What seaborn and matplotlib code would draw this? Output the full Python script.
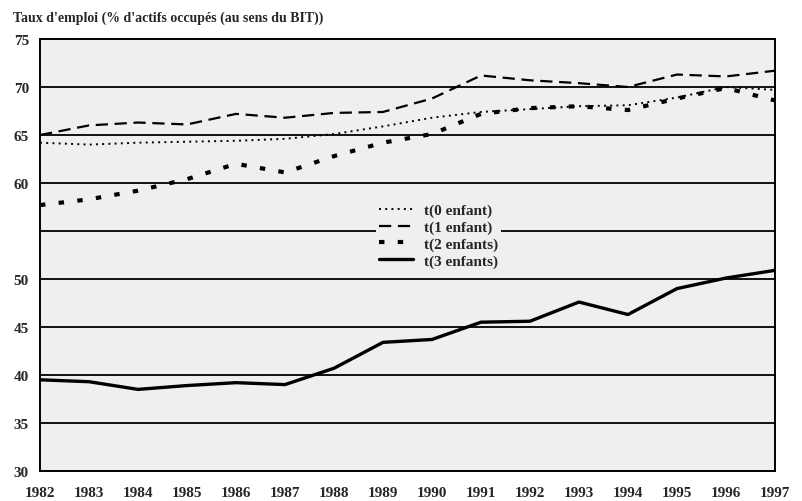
import numpy as np
import pandas as pd
import matplotlib
matplotlib.use('Agg')
import matplotlib.pyplot as plt
import seaborn as sns

# Employment rate by number of children
years = list(range(1982, 1998))
t0 = [64.2, 64.0, 64.2, 64.3, 64.4, 64.6, 65.1, 65.9, 66.8, 67.4, 67.7, 68.0, 68.1, 68.9, 70.0, 69.7]
t1 = [65.0, 66.0, 66.3, 66.1, 67.2, 66.8, 67.3, 67.4, 68.8, 71.2, 70.7, 70.4, 70.0, 71.3, 71.1, 71.7]
t2 = [57.7, 58.3, 59.2, 60.4, 62.0, 61.1, 62.8, 64.2, 65.1, 67.2, 67.8, 68.0, 67.6, 68.8, 69.9, 68.6]
t3 = [39.5, 39.3, 38.5, 38.9, 39.2, 39.0, 40.7, 43.4, 43.7, 45.5, 45.6, 47.6, 46.3, 49.0, 50.1, 50.9]

labels = ['t(0 enfant)', 't(1 enfant)', 't(2 enfants)', 't(3 enfants)']
ytick_vals = [30, 35, 40, 45, 50, 55, 60, 65, 70, 75]
ytick_labels = ['30', '35', '40', '45', '50', '', '60', '65', '70', '75']

sns.set_style('white')
plt.rcParams['font.family'] = ['Liberation Serif', 'DejaVu Serif']
plt.rcParams['font.weight'] = 'bold'

fig = plt.figure(figsize=(8.02, 5.02), dpi=100)
ax = fig.add_axes([0.0499, 0.0598, 0.9164, 0.8605])
ax.set_facecolor('#efefef')

df = pd.DataFrame({'year': years, labels[0]: t0, labels[1]: t1,
                   labels[2]: t2, labels[3]: t3})

# Horizontal grid lines at every 5 points
for v in ytick_vals[1:-1]:
    ax.axhline(v, color='black', lw=1.3, zorder=1)

styles = {
    labels[0]: dict(lw=1.4, dashes=(1.0, 2.2)),
    labels[1]: dict(lw=1.6, dashes=(5.5, 3.0)),
    labels[2]: dict(lw=3.0, dashes=(1.3, 3.2)),
    labels[3]: dict(lw=2.4, dashes=()),
}

for name in labels:
    st = styles[name]
    sns.lineplot(data=df, x='year', y=name, ax=ax, color='black',
                 lw=st['lw'], label=name, zorder=3)
    l = ax.get_lines()[-1]
    if st['dashes']:
        l.set_dashes(st['dashes'])

ax.set_xlim(1982, 1997)
ax.set_ylim(30, 75)
ax.set_xticks(years)
ax.set_xticklabels([str(y) for y in years], fontsize=11)
ax.set_yticks(ytick_vals)
ax.set_yticklabels(ytick_labels, fontsize=11)
ax.set_xlabel('')
ax.set_ylabel('')
ax.tick_params(axis='x', direction='inout', length=8, width=1.3, pad=7)
ax.tick_params(axis='y', direction='out', length=5, width=1.3, pad=3)
for s in ax.spines.values():
    s.set_color('black')
    s.set_linewidth(1.4)

leg = ax.legend(loc='center left', bbox_to_anchor=(0.447, 0.545),
                frameon=True, fancybox=False, fontsize=11, handlelength=2.2,
                labelspacing=0.2, borderpad=0.2, handletextpad=0.7)
leg.get_frame().set_facecolor('#efefef')
leg.get_frame().set_edgecolor('none')
leg.get_frame().set_alpha(1)
leg.set_zorder(5)

fig.text(0.016, 0.963, "Taux d'emploi (% d'actifs occupés (au sens du BIT))",
         fontsize=10, ha='left', va='center')

fig.savefig('out.png', dpi=100)
